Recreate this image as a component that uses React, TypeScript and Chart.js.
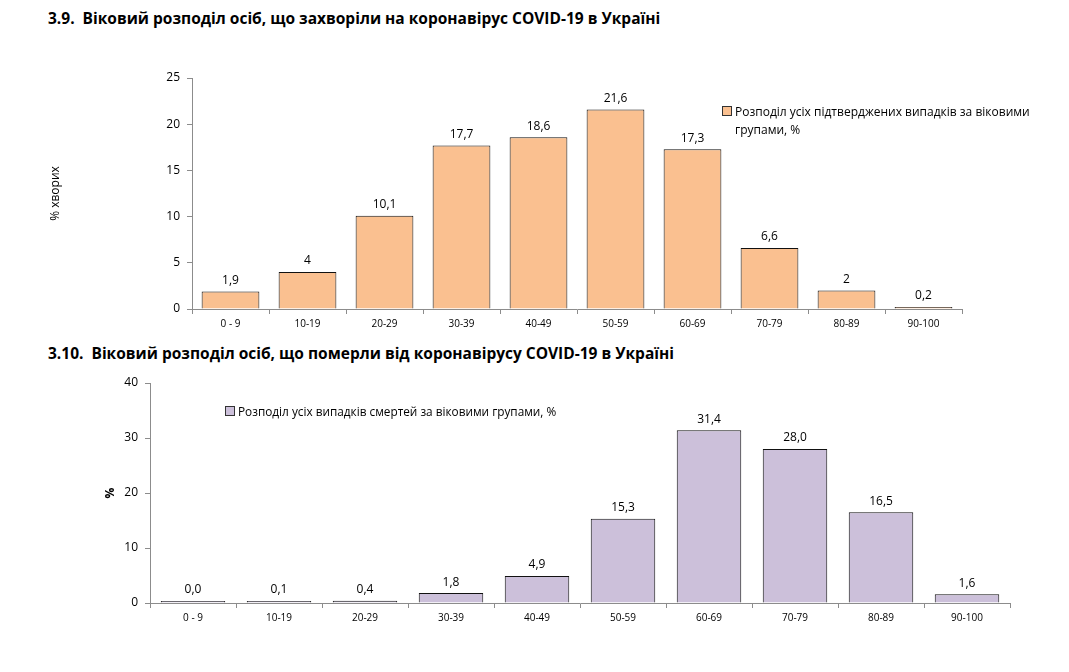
import React, { useEffect, useRef } from "react";
import { Chart, registerables } from "chart.js";

Chart.register(...registerables);

const ageGroups = ["0 - 9", "10-19", "20-29", "30-39", "40-49", "50-59", "60-69", "70-79", "80-89", "90-100"];
const casesPct = [1.9, 4, 10.1, 17.7, 18.6, 21.6, 17.3, 6.6, 2, 0.2];
const deathsPct = [0.0, 0.1, 0.4, 1.8, 4.9, 15.3, 31.4, 28.0, 16.5, 1.6];

const title1 = "3.9.  Віковий розподіл осіб, що захворіли на коронавірус COVID-19 в Україні";
const title2 = "3.10.  Віковий розподіл осіб, що померли від коронавірусу COVID-19 в Україні";
const legend1 = "Розподіл усіх підтверджених випадків за віковими групами, %";
const legend2 = "Розподіл усіх випадків смертей за віковими групами, %";
const yTitle1 = "% хворих";
const yTitle2 = "%";

const FONT = "'Open Sans', 'Liberation Sans', sans-serif";
const ORANGE = "#FAC090";
const PURPLE = "#CCC0DA";
const AXIS = "#8c8c8c";

const labelPlugin = (fmt: (v: number) => string) => ({
  id: "valLabels",
  afterDatasetsDraw(chart: any) {
    const ctx = chart.ctx;
    const meta = chart.getDatasetMeta(0);
    const data = chart.data.datasets[0].data as number[];
    ctx.save();
    ctx.font = `12px ${FONT}`;
    ctx.fillStyle = "#000";
    ctx.textAlign = "center";
    ctx.textBaseline = "bottom";
    meta.data.forEach((bar: any, i: number) => {
      ctx.fillText(fmt(data[i]), bar.x, bar.y - 5);
    });
    ctx.restore();
  },
});

function makeConfig(opts: {
  data: number[];
  color: string;
  max: number;
  step: number;
  padLeft: number;
  yWidth: number;
  padTop: number;
  padRight: number;
  padBottom: number;
  yTitle: string;
  yTitleBold: boolean;
  fmt: (v: number) => string;
}): any {
  return {
    type: "bar",
    data: {
      labels: ageGroups,
      datasets: [
        {
          data: opts.data,
          backgroundColor: opts.color,
          borderColor: "#111",
          borderWidth: 1,
          categoryPercentage: 1,
          barPercentage: 0.75,
          minBarLength: 2,
        },
      ],
    },
    options: {
      responsive: false,
      animation: false,
      layout: { padding: { left: opts.padLeft, top: opts.padTop, right: opts.padRight, bottom: opts.padBottom } },
      plugins: { legend: { display: false }, tooltip: { enabled: false } },
      scales: {
        x: {
          grid: { drawOnChartArea: false, drawTicks: true, tickLength: 5, color: AXIS, offset: true },
          border: { color: AXIS },
          ticks: { color: "#000", font: { family: FONT, size: 10 }, padding: 4, maxRotation: 0, autoSkip: false },
          afterFit: (s: any) => {
            s.height = 30;
          },
        },
        y: {
          min: 0,
          max: opts.max,
          grid: { drawOnChartArea: false, drawTicks: true, tickLength: 5, color: AXIS },
          border: { color: AXIS },
          ticks: { stepSize: opts.step, color: "#000", font: { family: FONT, size: 12 }, padding: 7 },
          title: {
            display: true,
            text: opts.yTitle,
            color: "#000",
            font: { family: FONT, size: 12, weight: opts.yTitleBold ? "bold" : "normal" },
          },
          afterFit: (s: any) => {
            s.width = opts.yWidth;
          },
        },
      },
    },
    plugins: [labelPlugin(opts.fmt)],
  };
}

export default function App() {
  const c1 = useRef<HTMLCanvasElement>(null);
  const c2 = useRef<HTMLCanvasElement>(null);

  useEffect(() => {
    const ch1 = new Chart(
      c1.current!,
      makeConfig({
        data: casesPct,
        color: ORANGE,
        max: 25,
        step: 5,
        padLeft: 44,
        yWidth: 192 - 44,
        padTop: 78 - 40,
        padRight: 1069 - 962,
        padBottom: 340 - 40 - (309 - 40) - 30,
        yTitle: yTitle1,
        yTitleBold: false,
        fmt: (v) => String(v).replace(".", ","),
      })
    );
    const ch2 = new Chart(
      c2.current!,
      makeConfig({
        data: deathsPct,
        color: PURPLE,
        max: 40,
        step: 10,
        padLeft: 99,
        yWidth: 150 - 99,
        padTop: 383 - 340,
        padRight: 1069 - 1010,
        padBottom: 332 - (603 - 340) - 30,
        yTitle: yTitle2,
        yTitleBold: true,
        fmt: (v) => v.toFixed(1).replace(".", ","),
      })
    );
    return () => {
      ch1.destroy();
      ch2.destroy();
    };
  }, []);

  const titleStyle: React.CSSProperties = {
    position: "absolute",
    left: 48,
    fontFamily: FONT,
    fontWeight: 700,
    fontSize: 15.5,
    color: "#000",
    whiteSpace: "pre",
    lineHeight: "20px",
  };
  const legendText: React.CSSProperties = {
    fontFamily: FONT,
    fontSize: 12,
    color: "#000",
    lineHeight: "18px",
  };
  const box = (color: string): React.CSSProperties => ({
    display: "inline-block",
    width: 8,
    height: 8,
    background: color,
    border: "1px solid #333",
    marginRight: 3,
    verticalAlign: "0px",
  });

  return (
    <div style={{ position: "fixed", left: 0, top: 0, width: 1069, height: 672, background: "#fff", overflow: "hidden" }}>
      <div style={{ ...titleStyle, top: 8 }}>{title1}</div>
      <canvas ref={c1} width={1069} height={300} style={{ position: "absolute", left: 0, top: 40 }} />
      <div
        style={{
          ...legendText,
          position: "absolute",
          left: 722,
          top: 103,
          width: 310,
          paddingLeft: 13,
          textIndent: -13,
          boxSizing: "border-box",
        }}
      >
        <span style={box(ORANGE)} />
        {legend1}
      </div>
      <div style={{ ...titleStyle, top: 343 }}>{title2}</div>
      <canvas ref={c2} width={1069} height={332} style={{ position: "absolute", left: 0, top: 340 }} />
      <div style={{ ...legendText, position: "absolute", left: 225, top: 402, whiteSpace: "nowrap", fontSize: 11.8 }}>
        <span style={box(PURPLE)} />
        {legend2}
      </div>
    </div>
  );
}
